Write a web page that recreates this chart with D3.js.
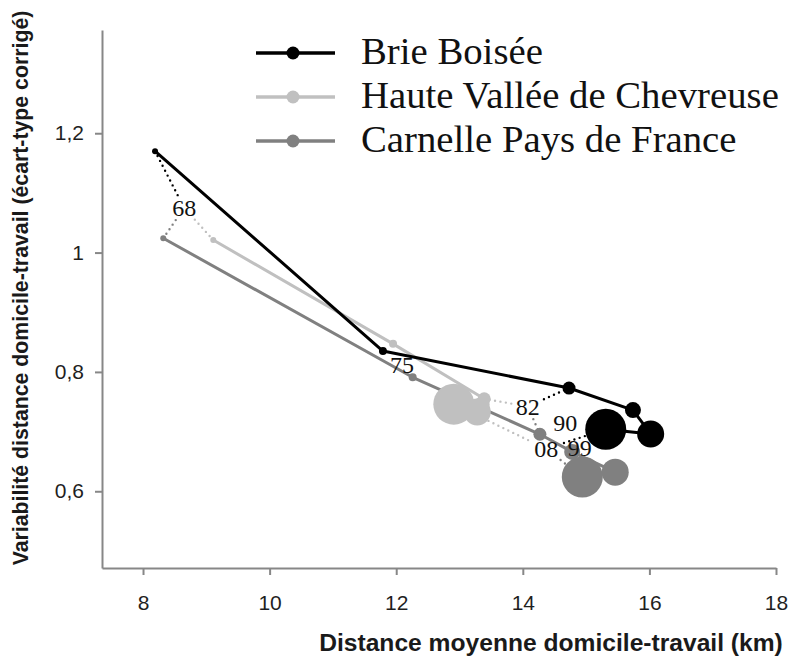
<!DOCTYPE html>
<html><head><meta charset="utf-8">
<script src="https://cdn.jsdelivr.net/npm/d3@7"></script>
<style>body{margin:0;background:#fff} svg{display:block}</style>
</head><body><svg id="c" width="789" height="657"></svg>
<script>
const years = ["68","75","82","90","99","08"];
const markerRadius = [3, 4, 6.5, 8, 13.5, 20.5];
const seriesNames = ["Brie Boisée","Haute Vallée de Chevreuse","Carnelle Pays de France"];
const seriesColors = ["#000000","#c0c0c0","#808080"];
const brieDist = [8.19, 11.79, 14.73, 15.74, 16.02, 15.31];
const brieVar = [1.170, 0.835, 0.773, 0.736, 0.696, 0.704];
const hauteDist = [9.11, 11.95, 13.39, 13.35, 13.28, 12.91];
const hauteVar = [1.021, 0.847, 0.755, 0.745, 0.733, 0.746];
const carnelleDist = [8.32, 12.26, 14.27, 14.78, 15.46, 14.94];
const carnelleVar = [1.024, 0.791, 0.6955, 0.666, 0.632, 0.624];
const labelDist = [8.65, 12.09, 14.08, 14.67, 14.90, 14.37];
const labelVar = [1.075, 0.812, 0.742, 0.714, 0.673, 0.671];
const connectorYears = ["68","68","68","82","82","82","08","08","08"];
const connectorSeries = [0,1,2,0,1,2,0,1,2];
const xTicks = [8,10,12,14,16,18];
const yTicks = [0.6,0.8,1,1.2];
const xTitle = "Distance moyenne domicile-travail (km)";
const yTitle = "Variabilité distance domicile-travail (écart-type corrigé)";

const series = [
  {name: seriesNames[0], color: seriesColors[0], xs: brieDist, ys: brieVar},
  {name: seriesNames[1], color: seriesColors[1], xs: hauteDist, ys: hauteVar},
  {name: seriesNames[2], color: seriesColors[2], xs: carnelleDist, ys: carnelleVar}
];

const svg = d3.select("#c");
const x = d3.scaleLinear().domain([7.352, 18]).range([102, 776]);
const y = d3.scaleLinear().domain([0.4714, 1.373]).range([568, 30]);
const fmt = v => String(v).replace(".", ",");
const axisColor = "#878787";

// axes
const gx = svg.append("g").attr("transform", "translate(0,568)")
  .call(d3.axisBottom(x).tickValues(xTicks).tickSize(7).tickSizeOuter(0).tickPadding(20).tickFormat(fmt));
const gy = svg.append("g").attr("transform", "translate(102,0)")
  .call(d3.axisLeft(y).tickValues(yTicks).tickSize(7).tickSizeOuter(0).tickPadding(11).tickFormat(fmt));
[gx, gy].forEach(g => {
  g.select(".domain").attr("stroke", axisColor).attr("stroke-width", 2);
  g.selectAll(".tick line").attr("stroke", axisColor).attr("stroke-width", 2);
  g.selectAll(".tick text").attr("fill", "#1f1f1f")
    .style("font-family", "'Liberation Sans', Arial, sans-serif").style("font-size", "21px");
});

// fit helper
function fitText(sel, target) {
  const fs = parseFloat(sel.style("font-size"));
  const w = sel.node().getComputedTextLength();
  sel.style("font-size", (fs * target / w) + "px");
}

const xt = svg.append("text").attr("x", 551).attr("y", 651).attr("text-anchor", "middle")
  .style("font-family", "'Liberation Sans', Arial, sans-serif").style("font-weight", "bold")
  .style("font-size", "18px").attr("fill", "#1a1a1a").text(xTitle);
fitText(xt, 464);
const yt = svg.append("text").attr("transform", "translate(28,288) rotate(-90)").attr("text-anchor", "middle")
  .style("font-family", "'Liberation Sans', Arial, sans-serif").style("font-weight", "bold")
  .style("font-size", "17px").attr("fill", "#1a1a1a").text(yTitle);
fitText(yt, 555);

// connectors (dotted) from points to year labels
const conn = svg.append("g");
connectorYears.forEach((yr, i) => {
  const k = years.indexOf(yr);
  const s = series[connectorSeries[i]];
  const px = x(s.xs[k]), py = y(s.ys[k]);
  const lx = x(labelDist[k]), ly = y(labelVar[k]);
  const dx = px - lx, dy = py - ly;
  const t = Math.min(15 / Math.abs(dx || 1e-6), 11 / Math.abs(dy || 1e-6));
  conn.append("line")
    .attr("x1", px).attr("y1", py)
    .attr("x2", lx + dx * Math.min(t, 1)).attr("y2", ly + dy * Math.min(t, 1))
    .attr("stroke", s.color).attr("stroke-width", 2.4)
    .attr("stroke-linecap", "round").attr("stroke-dasharray", "0,5.5");
});

// series lines and markers (drawn last series first)
const line = d3.line().x(d => x(d[0])).y(d => y(d[1]));
series.slice().reverse().forEach(s => {
  const pts = s.xs.map((v, i) => [v, s.ys[i], markerRadius[i]]);
  svg.append("path").datum(pts).attr("d", line).attr("fill", "none")
    .attr("stroke", s.color).attr("stroke-width", 3).attr("stroke-linejoin", "round");
  svg.append("g").selectAll("circle").data(pts).join("circle")
    .attr("cx", d => x(d[0])).attr("cy", d => y(d[1])).attr("r", d => d[2])
    .attr("fill", s.color);
});

// year labels
svg.append("g").selectAll("text").data(years).join("text")
  .attr("x", (d, i) => x(labelDist[i])).attr("y", (d, i) => y(labelVar[i]))
  .attr("dy", "0.34em").attr("text-anchor", "middle")
  .style("font-family", "'Liberation Serif', 'Times New Roman', serif").style("font-size", "24px")
  .attr("fill", "#111").text(d => d);

// legend
const lg = svg.append("g");
const rowY = [53, 97, 141];
series.forEach((s, i) => {
  lg.append("line").attr("x1", 256).attr("x2", 335).attr("y1", rowY[i]).attr("y2", rowY[i])
    .attr("stroke", s.color).attr("stroke-width", 3.5);
  lg.append("circle").attr("cx", 293).attr("cy", rowY[i]).attr("r", 6.5).attr("fill", s.color);
});
const lt = lg.selectAll("text").data(series).join("text")
  .attr("x", 361).attr("y", (d, i) => rowY[i] + 11)
  .style("font-family", "'Liberation Serif', 'Times New Roman', serif").style("font-size", "37px")
  .attr("fill", "#111").text(d => d.name);
fitText(d3.select(lt.nodes()[1]), 418);
lt.style("font-size", d3.select(lt.nodes()[1]).style("font-size"));
</script></body></html>
